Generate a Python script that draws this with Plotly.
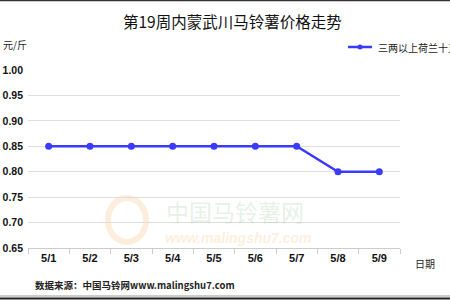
import plotly.graph_objects as go

dates = ["5/1", "5/2", "5/3", "5/4", "5/5", "5/6", "5/7", "5/8", "5/9"]
prices = [0.85, 0.85, 0.85, 0.85, 0.85, 0.85, 0.85, 0.80, 0.80]
series_name = "三两以上荷兰十五"
title = "第19周内蒙武川马铃薯价格走势"
y_ticks = [0.65, 0.70, 0.75, 0.80, 0.85, 0.90, 0.95, 1.00]

W, H = 450, 300
L, R, T, B = 28, 400, 70, 248

def px(x):
    return (x - L) / (R - L)

def py(y):
    return (B - y) / (B - T)

fig = go.Figure()
fig.add_trace(go.Scatter(
    x=dates, y=prices, mode="lines+markers", name=series_name,
    line=dict(color="#3b3bff", width=2.5),
    marker=dict(color="#3b3bff", size=7),
    showlegend=False,
))

font = "Liberation Sans, Arial, sans-serif"
cjk = "Noto Sans CJK SC"

anns = [
    dict(text=title, x=px(233), y=py(21), font=dict(family=cjk, size=15.5, color="#111")),
    dict(text="元/斤", x=px(15), y=py(44), font=dict(family=cjk, size=10, color="#222")),
    dict(text="日期", x=px(425), y=py(263), font=dict(family=cjk, size=10, color="#222")),
    dict(text="<b>数据来源：中国马铃网www.malingshu7.com</b>", x=px(33), y=py(285), xanchor="left",
         font=dict(family=cjk, size=9.5, color="#222")),
    dict(text=series_name, x=px(376), y=py(47), xanchor="left",
         font=dict(family=cjk, size=10, color="#222")),
    dict(text="中国马铃薯网", x=px(235), y=py(211), font=dict(family=cjk, size=23, color="rgba(150,200,150,0.25)")),
    dict(text="<b><i>www.malingshu7.com</i></b>", x=px(238), y=py(238), font=dict(family=font, size=14, color="rgba(250,200,140,0.3)")),
]
for a in anns:
    a.setdefault("xanchor", "center")
    a.update(xref="paper", yref="paper", yanchor="middle", showarrow=False)
    fig.add_annotation(**a)

shapes = [
    # legend sample
    dict(type="line", x0=px(348), x1=px(372), y0=py(47), y1=py(47), line=dict(color="#3b3bff", width=2.5)),
    dict(type="circle", x0=px(357.5), x1=px(362.5), y0=py(44.5), y1=py(49.5), fillcolor="#3b3bff", line=dict(width=0)),
    # watermark logo
    dict(type="circle", x0=px(108), x1=px(146), y0=py(198), y1=py(242), line=dict(color="rgba(250,200,140,0.3)", width=6)),
    # frame lines
    dict(type="line", x0=px(0), x1=px(450), y0=py(0.5), y1=py(0.5), line=dict(color="#333", width=1.5)),
    dict(type="line", x0=px(0), x1=px(450), y0=py(296), y1=py(296), line=dict(color="#999", width=1)),
    dict(type="line", x0=px(0), x1=px(450), y0=py(298.5), y1=py(298.5), line=dict(color="#222", width=2)),
]
for s in shapes:
    s.update(xref="paper", yref="paper", layer="above" if s["type"] != "circle" or "fillcolor" in s else "below")
    fig.add_shape(**s)

fig.update_layout(
    width=W, height=H,
    margin=dict(l=L, r=W - R, t=T, b=H - B, pad=0, autoexpand=False),
    paper_bgcolor="white", plot_bgcolor="white",
    showlegend=False,
    xaxis=dict(
        type="category", range=[-0.5, 8.5], tickson="boundaries", automargin=False,
        ticks="outside", ticklen=5, tickcolor="#ccc", showline=True, linecolor="#ccc", linewidth=1,
        showgrid=False, tickfont=dict(family=font, size=11, color="#111"),
        tickvals=dates, ticktext=[f"<b>{d}</b>" for d in dates],
    ),
    yaxis=dict(
        range=[0.65, 1.0], tickvals=y_ticks, ticktext=[f"<b>{v:.2f}</b>" for v in y_ticks],
        showgrid=True, gridcolor="#ddd", gridwidth=1, zeroline=False, showline=False, automargin=False,
        ticks="", ticklabelstandoff=4, tickfont=dict(family=font, size=10.5, color="#111"),
    ),
)

fig.write_html("out.html")
